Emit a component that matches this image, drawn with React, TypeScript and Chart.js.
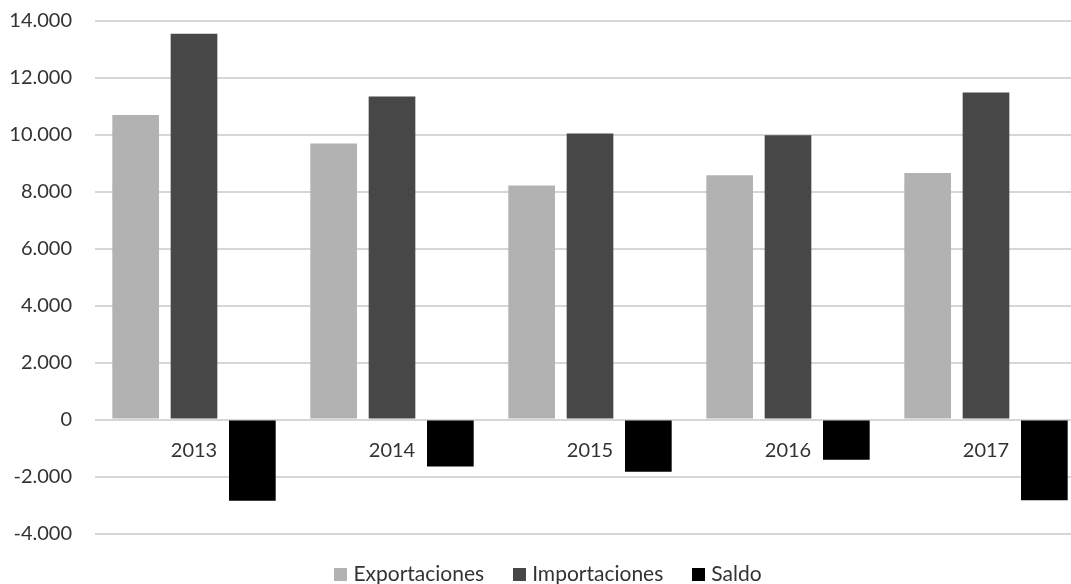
import React, { useEffect, useRef } from 'react';
import { Chart, registerables } from 'chart.js';

Chart.register(...registerables);

const categories = ['2013', '2014', '2015', '2016', '2017'];
const exportaciones = [10700, 9700, 8220, 8580, 8660];
const importaciones = [13550, 11350, 10050, 9990, 11490];
const saldo = [-2850, -1650, -1830, -1410, -2830];
const seriesNames = ['Exportaciones', 'Importaciones', 'Saldo'];
const seriesColors = ['#b2b2b2', '#474747', '#000000'];
const yMin = -4000;
const yMax = 14000;
const yStep = 2000;

const FONT = 'Lato';
const TEXT_COLOR = '#333333';

function fmt(v: number): string {
  const s = Math.abs(v).toString().replace(/\B(?=(\d{3})+(?!\d))/g, '.');
  return (v < 0 ? '-' : '') + s;
}

const legendPlugin = {
  id: 'bottomLegend',
  afterDraw(chart: any) {
    const ctx = chart.ctx as CanvasRenderingContext2D;
    ctx.save();
    ctx.font = `21px ${FONT}`;
    ctx.textBaseline = 'middle';
    ctx.textAlign = 'left';
    const box = 13;
    const gapText = 6;
    const gapItem = 29;
    const items = chart.data.datasets.map((d: any) => ({ text: d.label, color: d.backgroundColor }));
    const widths = items.map((it: any) => box + gapText + ctx.measureText(it.text).width);
    const total = widths.reduce((a: number, b: number) => a + b, 0) + gapItem * (items.length - 1);
    let x = 548 - total / 2;
    const cy = 574;
    items.forEach((it: any, i: number) => {
      ctx.fillStyle = it.color;
      ctx.fillRect(Math.round(x), Math.round(cy - box / 2), box, box);
      ctx.fillStyle = TEXT_COLOR;
      ctx.fillText(it.text, x + box + gapText, cy);
      x += widths[i] + gapItem;
    });
    ctx.restore();
  },
};

export default function App() {
  const ref = useRef<HTMLCanvasElement>(null);

  useEffect(() => {
    if (!ref.current) return;
    const chart = new Chart(ref.current, {
      type: 'bar',
      data: {
        labels: categories,
        datasets: [
          { label: seriesNames[0], data: exportaciones, backgroundColor: seriesColors[0] },
          { label: seriesNames[1], data: importaciones, backgroundColor: seriesColors[1] },
          { label: seriesNames[2], data: saldo, backgroundColor: seriesColors[2] },
        ].map((d) => ({ ...d, borderWidth: 0, categoryPercentage: 0.884, barPercentage: 0.8 })),
      },
      options: {
        responsive: false,
        animation: false,
        devicePixelRatio: 1,
        layout: { padding: { top: 21, bottom: 50.5, left: 0, right: 5 } },
        plugins: {
          legend: { display: false },
          tooltip: { enabled: false },
        },
        scales: {
          x: {
            type: 'category',
            position: { y: 0 } as any,
            grid: { display: false, drawTicks: false },
            border: { display: false },
            ticks: {
              font: { family: FONT, size: 20 },
              color: TEXT_COLOR,
              padding: 19,
              maxRotation: 0,
            },
          },
          y: {
            min: yMin,
            max: yMax,
            grid: {
              color: '#d6d6d6',
              lineWidth: 2,
              drawTicks: true,
              tickLength: 23,
              tickColor: 'rgba(0,0,0,0)',
            },
            border: { display: false },
            afterFit: (s: any) => {
              s.width = 95;
            },
            ticks: {
              stepSize: yStep,
              font: { family: FONT, size: 20 },
              color: TEXT_COLOR,
              padding: 0,
              callback: (v: any) => fmt(Number(v)),
            },
          },
        },
      },
      plugins: [legendPlugin],
    });
    return () => chart.destroy();
  }, []);

  return (
    <div
      style={{
        position: 'fixed',
        left: 0,
        top: 0,
        width: 1071,
        height: 584,
        overflow: 'hidden',
        background: '#ffffff',
      }}
    >
      <canvas
        ref={ref}
        width={1090}
        height={584}
        style={{ position: 'absolute', left: 0, top: 0, width: 1090, height: 584 }}
      />
    </div>
  );
}
